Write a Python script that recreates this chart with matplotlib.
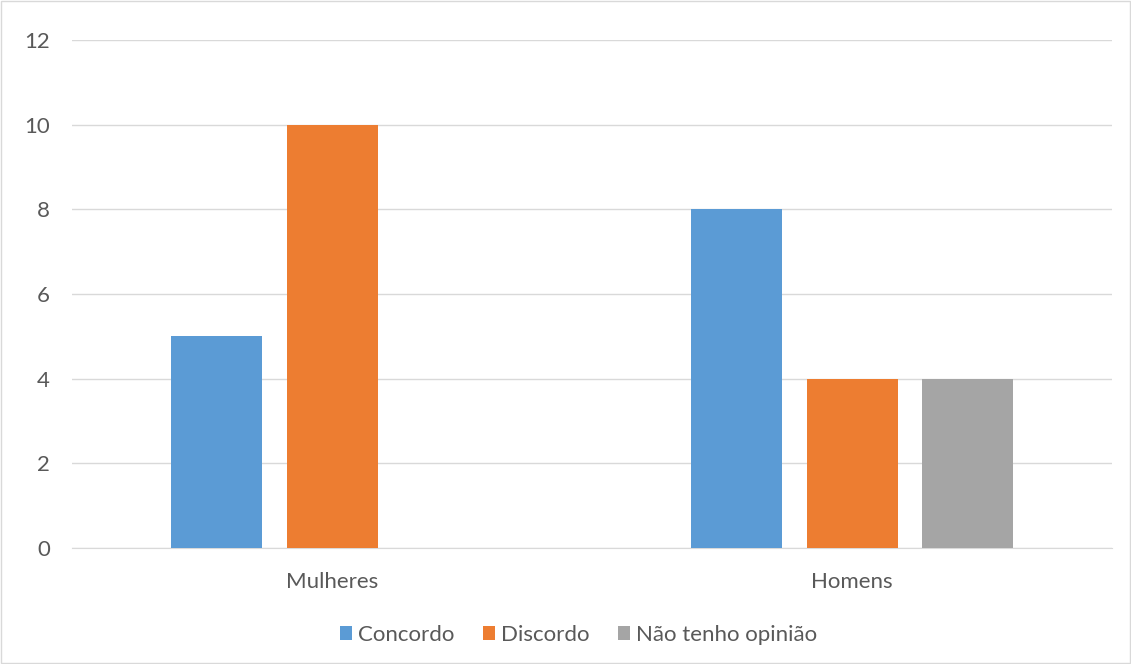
import matplotlib.pyplot as plt
import numpy as np

plt.rcParams['font.family'] = ['Lato', 'DejaVu Sans']

categorias = ["Mulheres", "Homens"]
series = ["Concordo", "Discordo", "Não tenho opinião"]
concordo = [5, 8]
discordo = [10, 4]
sem_opiniao = [0, 4]
valores = [concordo, discordo, sem_opiniao]
cores = ["#5B9BD5", "#ED7D31", "#A5A5A5"]

fig = plt.figure(figsize=(11.31, 6.64), dpi=100)
ax = fig.add_axes([0.0637, 0.1747, 0.9195, 0.7651])

x = np.arange(len(categorias))
largura = 0.175
passo = 0.223
for i, (nome, vals, cor) in enumerate(zip(series, valores, cores)):
    ax.bar(x + (i - 1) * passo, vals, largura, color=cor, label=nome, zorder=3)

ax.set_xlim(-0.5, 1.5)
ax.set_ylim(0, 12)
ax.set_yticks(range(0, 13, 2))
ax.set_xticks(x)
ax.set_xticklabels(categorias)
ax.grid(axis="y", color="#D9D9D9", linewidth=1, zorder=0)
for s in ["top", "right", "left"]:
    ax.spines[s].set_visible(False)
ax.spines["bottom"].set_color("#D9D9D9")
ax.tick_params(axis="both", length=0, colors="#595959", labelsize=16)
ax.tick_params(axis="y", pad=16)
ax.tick_params(axis="x", pad=17)

leg = ax.legend(loc="upper center", bbox_to_anchor=(0.487, -0.112), ncol=3,
                frameon=False, fontsize=16, handlelength=0.55, handleheight=0.55,
                handletextpad=0.25, columnspacing=1.3)
for t in leg.get_texts():
    t.set_color("#595959")

borda = plt.Rectangle((0.001, 0.001), 0.998, 0.998, transform=fig.transFigure,
                      fill=False, edgecolor="#D9D9D9", linewidth=1)
fig.patches.append(borda)

plt.savefig("out.png")
